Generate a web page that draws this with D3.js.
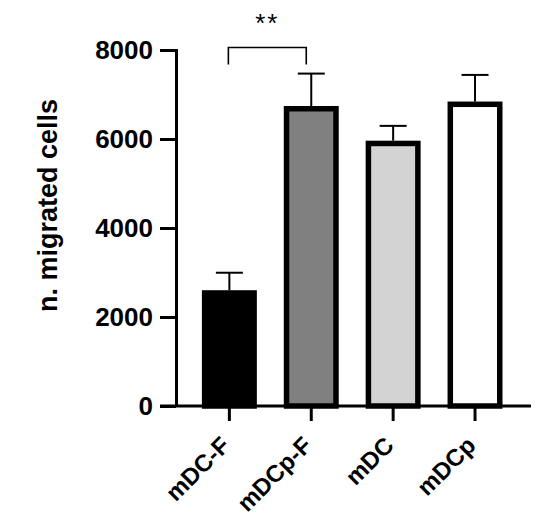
<!DOCTYPE html>
<html>
<head>
<meta charset="utf-8">
<script src="https://cdn.jsdelivr.net/npm/d3@7/dist/d3.min.js"></script>
<style>
  html, body { margin: 0; padding: 0; background: #fff; }
  svg { display: block; }
  text { font-family: "Liberation Sans", Arial, sans-serif; }
</style>
</head>
<body>
<svg id="chart" width="550" height="529"></svg>
<script>
// ---- data ----
const categories = ["mDC-F", "mDCp-F", "mDC", "mDCp"];
const means = [2540, 6680, 5900, 6780];
const sems = [455, 790, 395, 660];
const fills = ["#000000", "#808080", "#d3d3d3", "#ffffff"];
const yTicks = [0, 2000, 4000, 6000, 8000];
const yTitle = "n. migrated cells";
const sigPair = [0, 1];
const sigLabel = "**";

// ---- layout ----
const svg = d3.select("#chart");
const y = d3.scaleLinear().domain([0, 8000]).range([406, 50]);
const x = d3.scaleBand().domain(categories).range([175, 529.4])
  .paddingInner(0.396).paddingOuter(0.362);
const axisX = 176;
const font = '"Liberation Sans", Arial, sans-serif';

// bars
svg.append("g").selectAll("rect").data(categories).join("rect")
  .attr("x", d => x(d))
  .attr("width", x.bandwidth())
  .attr("y", (d, i) => y(means[i]))
  .attr("height", (d, i) => y(0) - y(means[i]))
  .attr("fill", (d, i) => fills[i])
  .attr("stroke", "#000")
  .attr("stroke-width", 5.5);

// error bars (upper SEM)
const eb = svg.append("g").attr("stroke", "#000").attr("stroke-width", 2);
categories.forEach((d, i) => {
  const cx = x(d) + x.bandwidth() / 2;
  eb.append("line").attr("x1", cx).attr("x2", cx)
    .attr("y1", y(means[i]) - 2.75).attr("y2", y(means[i] + sems[i]));
  eb.append("line").attr("x1", cx - 13.5).attr("x2", cx + 13.5)
    .attr("y1", y(means[i] + sems[i])).attr("y2", y(means[i] + sems[i]));
});

// y axis
const gy = svg.append("g").attr("transform", `translate(${axisX},0)`)
  .call(d3.axisLeft(y).tickValues(yTicks).tickFormat(d3.format("d"))
    .tickSize(16).tickSizeOuter(0).tickPadding(7));
gy.select(".domain").attr("stroke-width", 3).attr("d", `M0.5,${y(8000)-1}V${y(0)}`);
gy.selectAll(".tick line").attr("stroke-width", 3);
gy.selectAll(".tick text").attr("font-size", 26).attr("font-weight", "bold")
  .attr("font-family", font).attr("fill", "#000");

// x axis
const gx = svg.append("g").attr("transform", `translate(0,${y(0)})`)
  .call(d3.axisBottom(x).tickSize(15).tickSizeOuter(0).tickFormat(""));
gx.select(".domain").attr("stroke-width", 3).attr("d", `M${axisX - 16},0H531`);
gx.selectAll(".tick line").attr("stroke-width", 3);

svg.append("g").selectAll("text").data(categories).join("text")
  .attr("transform", d => `translate(${x(d) + x.bandwidth() / 2 + 2},${y(0) + 41}) rotate(-45)`)
  .attr("text-anchor", "end")
  .attr("font-size", 24).attr("font-weight", "bold")
  .attr("fill", "#000")
  .text(d => d);

// y title
svg.append("text")
  .attr("transform", "translate(57,205.5) rotate(-90)")
  .attr("text-anchor", "middle")
  .attr("font-size", 27).attr("font-weight", "bold")
  .text(yTitle);

// significance bracket
const bx1 = x(categories[sigPair[0]]) + x.bandwidth() / 2 - 1;
const bx2 = x(categories[sigPair[1]]) + x.bandwidth() / 2 - 5;
const by = y(8000) - 2.5;
svg.append("path")
  .attr("d", `M${bx1},${by + 17}V${by}H${bx2}V${by + 17}`)
  .attr("fill", "none").attr("stroke", "#000").attr("stroke-width", 1.6);
svg.append("text")
  .attr("x", (bx1 + bx2) / 2).attr("y", 32)
  .attr("text-anchor", "middle")
  .attr("font-size", 26).attr("letter-spacing", 2)
  .text(sigLabel);
</script>
</body>
</html>
